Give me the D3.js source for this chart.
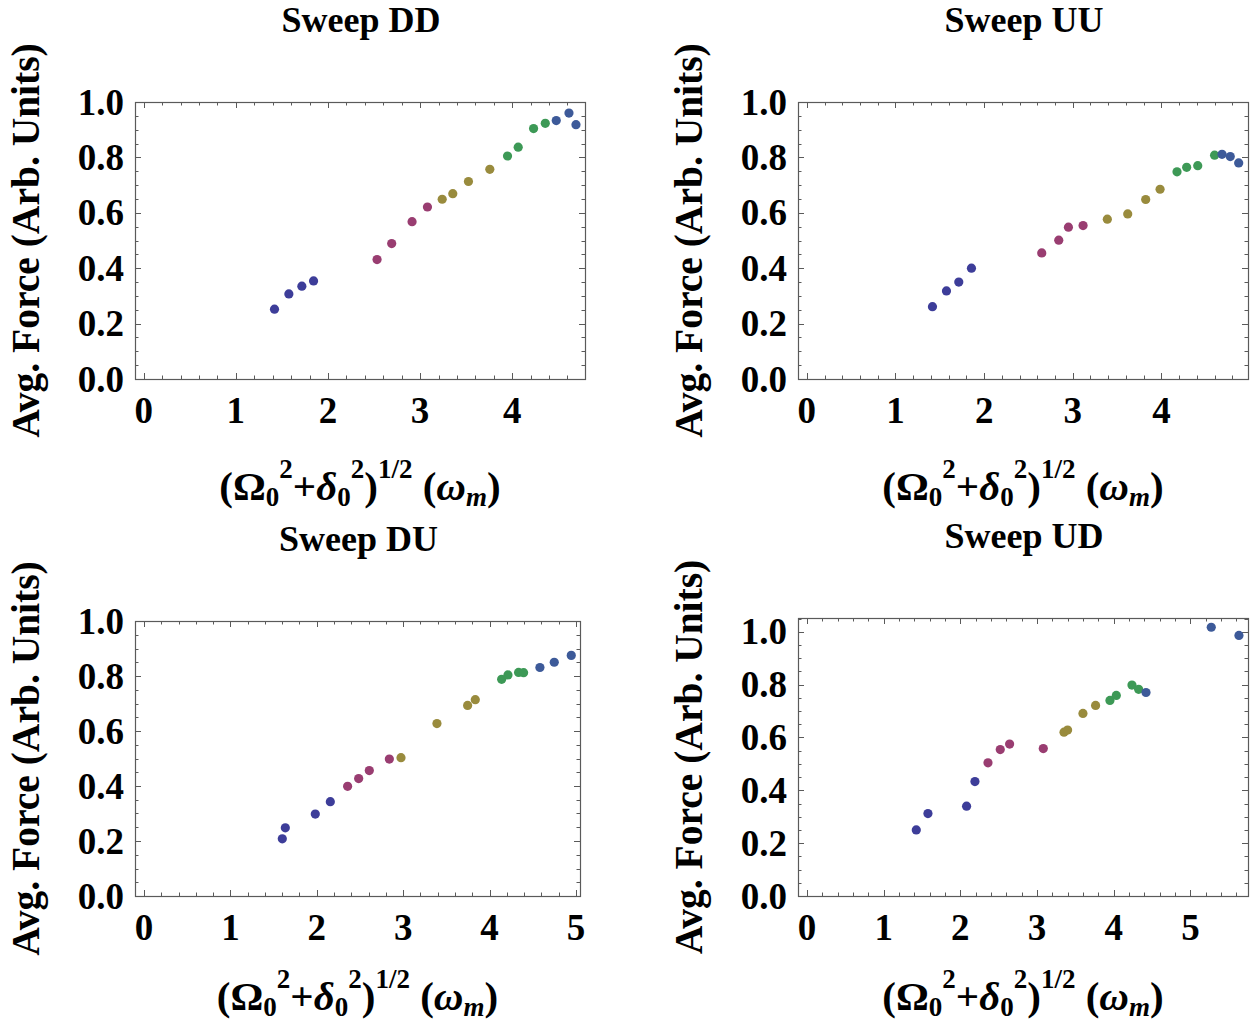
<!DOCTYPE html>
<html>
<head>
<meta charset="utf-8">
<script src="https://cdn.jsdelivr.net/npm/d3@7/dist/d3.min.js"></script>
<style>
  html, body { margin: 0; padding: 0; background: #fff; }
  svg { display: block; }
  text { font-family: "Liberation Serif", "Times New Roman", serif; font-weight: bold; fill: #000; }
</style>
</head>
<body>
<svg id="chart" width="1252" height="1022"></svg>
<script>
// ---------------- DATA ----------------
const panelTitles = ["Sweep DD", "Sweep UU", "Sweep DU", "Sweep UD"];
const yAxisTitle = "Avg. Force (Arb. Units)";

// group index of each point (colour group)
const pointGroups = [0,0,0,0, 1,1,1,1, 2,2,2,2, 3,3,3,3, 4,4,4];
const groupColors = ["#3d3d99", "#993d71", "#998b3d", "#3d9956", "#3d5a99"];

const xDD = [1.42, 1.576, 1.717, 1.844, 2.533, 2.692, 2.913, 3.08, 3.24, 3.355, 3.525, 3.757, 3.949, 4.065, 4.232, 4.359, 4.478, 4.616, 4.692];
const yDD = [0.252, 0.307, 0.335, 0.354, 0.431, 0.489, 0.568, 0.621, 0.649, 0.669, 0.713, 0.757, 0.805, 0.837, 0.904, 0.923, 0.933, 0.960, 0.918];

const xUU = [1.417, 1.575, 1.714, 1.857, 2.65, 2.842, 2.951, 3.116, 3.39, 3.62, 3.823, 3.985, 4.176, 4.285, 4.41, 4.60, 4.684, 4.777, 4.872];
const yUU = [0.261, 0.318, 0.350, 0.400, 0.455, 0.501, 0.548, 0.554, 0.577, 0.596, 0.648, 0.685, 0.748, 0.764, 0.770, 0.808, 0.811, 0.803, 0.780];

const xDU = [1.601, 1.636, 1.983, 2.157, 2.357, 2.485, 2.608, 2.84, 2.975, 3.391, 3.746, 3.835, 4.14, 4.213, 4.336, 4.394, 4.583, 4.749, 4.946];
const yDU = [0.208, 0.248, 0.298, 0.343, 0.399, 0.427, 0.456, 0.498, 0.503, 0.627, 0.693, 0.714, 0.788, 0.804, 0.813, 0.812, 0.831, 0.850, 0.875];

const xUD = [1.425, 1.577, 2.081, 2.19, 2.36, 2.52, 2.642, 3.081, 3.351, 3.398, 3.598, 3.763, 3.95, 4.033, 4.237, 4.324, 4.42, 5.271, 5.632];
const yUD = [0.250, 0.312, 0.340, 0.433, 0.504, 0.554, 0.575, 0.558, 0.620, 0.628, 0.691, 0.721, 0.740, 0.759, 0.798, 0.782, 0.770, 1.017, 0.986];

// axis ranges (data units)
const xDomains = [[-0.094, 4.79], [-0.1, 4.977], [-0.104, 5.047], [-0.117, 5.75]];
const yDomains = [[0, 1], [0, 1], [0, 1], [0, 1.052]];
const yMajorTicks = [0, 0.2, 0.4, 0.6, 0.8, 1.0];
const xMajorTicks = [[0,1,2,3,4], [0,1,2,3,4], [0,1,2,3,4,5], [0,1,2,3,4,5]];

// ---------------- LAYOUT ----------------
const frames = [
  {l: 135, r: 585, t: 102, b: 379},
  {l: 798, r: 1248, t: 102, b: 379},
  {l: 135, r: 580, t: 621, b: 896},
  {l: 798, r: 1248, t: 618, b: 896}
];
const xs = [xDD, xUU, xDU, xUD];
const ys = [yDD, yUU, yDU, yUD];

const svg = d3.select("#chart");
const frameColor = "#5a5a5a";

function range(a, b, step) {
  const out = [];
  const n = Math.round((b - a) / step);
  for (let i = 0; i <= n; i++) out.push(+(a + i * step).toFixed(6));
  return out;
}

frames.forEach((f, i) => {
  const x = d3.scaleLinear().domain(xDomains[i]).range([f.l, f.r]);
  const y = d3.scaleLinear().domain(yDomains[i]).range([f.b, f.t]);
  const g = svg.append("g");

  const xMinor = range(0, Math.floor(xDomains[i][1] / 0.2) * 0.2, 0.2).filter(v => v >= xDomains[i][0] && v <= xDomains[i][1]);
  const yMinor = range(0, Math.floor(yDomains[i][1] / 0.05 + 1e-6) * 0.05, 0.05);
  const isMajX = v => Math.abs(v - Math.round(v)) < 1e-6;
  const isMajY = v => Math.abs(v * 5 - Math.round(v * 5)) < 1e-6;

  const tickG = g.append("g").attr("stroke", frameColor).attr("stroke-width", 1);
  xMinor.forEach(v => {
    const len = isMajX(v) ? 6 : 3.5;
    const px = Math.round(x(v)) + 0.5;
    tickG.append("line").attr("x1", px).attr("x2", px).attr("y1", f.b).attr("y2", f.b - len);
    tickG.append("line").attr("x1", px).attr("x2", px).attr("y1", f.t).attr("y2", f.t + len);
  });
  yMinor.forEach(v => {
    const len = isMajY(v) ? 6 : 3.5;
    const py = Math.round(y(v)) + 0.5;
    tickG.append("line").attr("y1", py).attr("y2", py).attr("x1", f.l).attr("x2", f.l + len);
    tickG.append("line").attr("y1", py).attr("y2", py).attr("x1", f.r).attr("x2", f.r - len);
  });

  g.append("rect")
    .attr("x", f.l + 0.5).attr("y", f.t + 0.5)
    .attr("width", f.r - f.l).attr("height", f.b - f.t)
    .attr("fill", "none").attr("stroke", frameColor).attr("stroke-width", 1.2);

  g.selectAll(".ylab").data(yMajorTicks).enter().append("text")
    .attr("x", f.l - 11).attr("y", d => y(d))
    .attr("dy", "0.34em")
    .attr("text-anchor", "end")
    .attr("font-size", 37)
    .text(d => d.toFixed(1));

  g.selectAll(".xlab").data(xMajorTicks[i]).enter().append("text")
    .attr("x", d => x(d)).attr("y", f.b + 44)
    .attr("text-anchor", "middle")
    .attr("font-size", 37)
    .text(d => d);

  g.selectAll("circle").data(xs[i].map((v, k) => ({x: v, y: ys[i][k], g: pointGroups[k]})))
    .enter().append("circle")
    .attr("cx", d => x(d.x)).attr("cy", d => y(d.y))
    .attr("r", 4.6)
    .attr("fill", d => groupColors[d.g]);

  const cx = (f.l + f.r) / 2;
  g.append("text").attr("x", cx + 1).attr("y", f.t - 70)
    .attr("text-anchor", "middle").attr("font-size", 36)
    .text(panelTitles[i]);

  const cy = (f.t + f.b) / 2;
  g.append("text")
    .attr("transform", `translate(${f.l - 96},${cy}) rotate(-90)`)
    .attr("text-anchor", "middle").attr("font-size", 39.5)
    .text(yAxisTitle);

  // x axis title: (Ω0^2+δ0^2)^(1/2) (ω_m)
  const xl = g.append("text")
    .attr("x", cx).attr("y", i < 2 ? 500 : 1010)
    .attr("text-anchor", "middle").attr("font-size", 41);
  const parts = [
    {t: "(Ω", dy: 0},
    {t: "0", dy: 6, s: 27},
    {t: "2", dy: -28, s: 27},
    {t: "+", dy: 22},
    {t: "δ", dy: 0, it: true},
    {t: "0", dy: 6, s: 27},
    {t: "2", dy: -28, s: 27},
    {t: ")", dy: 22},
    {t: "1/2", dy: -22, s: 27},
    {t: "\u00a0(", dy: 22},
    {t: "ω", dy: 0, it: true},
    {t: "m", dy: 6, s: 27, it: true},
    {t: ")", dy: -6}
  ];
  parts.forEach(p => {
    const ts = xl.append("tspan").attr("dy", p.dy).text(p.t);
    if (p.s) ts.attr("font-size", p.s);
    if (p.it) ts.attr("font-style", "italic");
  });
});
</script>
</body>
</html>
